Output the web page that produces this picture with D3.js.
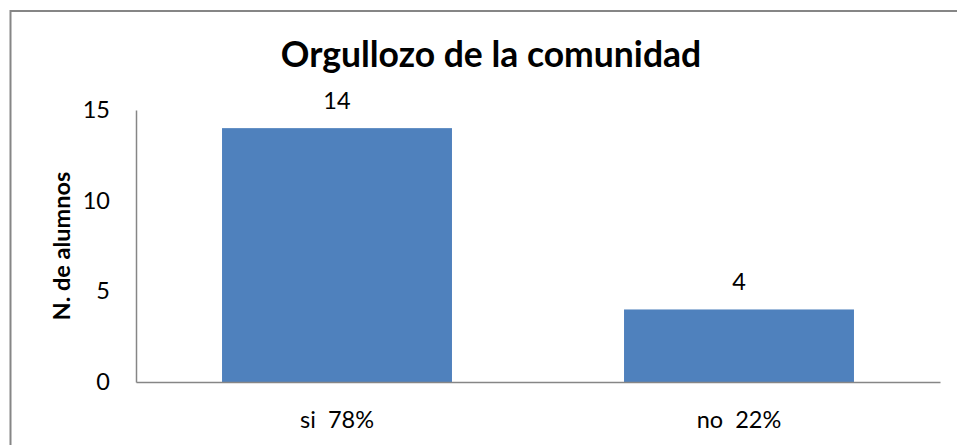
<!DOCTYPE html>
<html lang="es">
<head>
<meta charset="utf-8">
<title>Orgullozo de la comunidad</title>
<script src="https://cdn.jsdelivr.net/npm/d3@7"></script>
<style>
  body { margin: 0; background: #fff; }
  text { font-family: Lato, "Open Sans", sans-serif; fill: #000; }
</style>
</head>
<body>
<script>
var categories = ["si  78%", "no  22%"];
var values = [14, 4];
var yTicks = [0, 5, 10, 15];

var w = 957, h = 445;
var plotLeft = 136, plotRight = 940, plotTop = 110, plotBottom = 382;

var svg = d3.select("body").append("svg")
  .attr("width", w)
  .attr("height", h);

// chart frame (only top and left edges are inside the picture)
svg.append("rect")
  .attr("x", 10.5).attr("y", 11)
  .attr("width", 960).attr("height", 450)
  .attr("fill", "none")
  .attr("stroke", "#868686")
  .attr("stroke-width", 2);

var x = d3.scaleBand()
  .domain(categories)
  .range([plotLeft, plotRight])
  .paddingInner(0.428)
  .paddingOuter(0.214);

var y = d3.scaleLinear()
  .domain([0, 15])
  .range([plotBottom, plotTop]);

// bars
svg.selectAll("rect.bar")
  .data(values)
  .enter()
  .append("rect")
  .attr("class", "bar")
  .attr("x", function(d, i) { return x(categories[i]); })
  .attr("y", function(d) { return y(d); })
  .attr("width", x.bandwidth())
  .attr("height", function(d) { return plotBottom - y(d); })
  .attr("fill", "#4f81bd");

// value labels
svg.selectAll("text.val")
  .data(values)
  .enter()
  .append("text")
  .attr("class", "val")
  .attr("x", function(d, i) { return x(categories[i]) + x.bandwidth() / 2; })
  .attr("y", function(d) { return y(d) - 19; })
  .attr("text-anchor", "middle")
  .attr("font-size", "23.5px")
  .text(function(d) { return d; });

// y axis
var yAxis = svg.append("g")
  .attr("transform", "translate(" + plotLeft + ",0)")
  .call(d3.axisLeft(y).tickValues(yTicks).tickSize(0).tickPadding(26));
yAxis.select(".domain").attr("stroke", "#868686").attr("stroke-width", 1.5);
yAxis.selectAll("text")
  .attr("font-size", "23.5px")
  .attr("font-family", "Lato, sans-serif");

// x axis
var xAxis = svg.append("g")
  .attr("transform", "translate(0," + plotBottom + ")")
  .call(d3.axisBottom(x).tickSize(0).tickPadding(29));
xAxis.select(".domain").attr("stroke", "#868686").attr("stroke-width", 1.5);
xAxis.selectAll("text")
  .attr("font-size", "23.5px")
  .attr("font-family", "Lato, sans-serif")
  .style("white-space", "pre");

// title
svg.append("text")
  .attr("x", 491)
  .attr("y", 67)
  .attr("text-anchor", "middle")
  .attr("font-size", "35.5px")
  .attr("font-weight", "bold")
  .text("Orgullozo de la comunidad");

// y axis label
svg.append("text")
  .attr("transform", "translate(70," + (plotTop + plotBottom) / 2 + ") rotate(-90)")
  .attr("text-anchor", "middle")
  .attr("font-size", "23.5px")
  .attr("font-weight", "bold")
  .text("N. de alumnos");
</script>
</body>
</html>
